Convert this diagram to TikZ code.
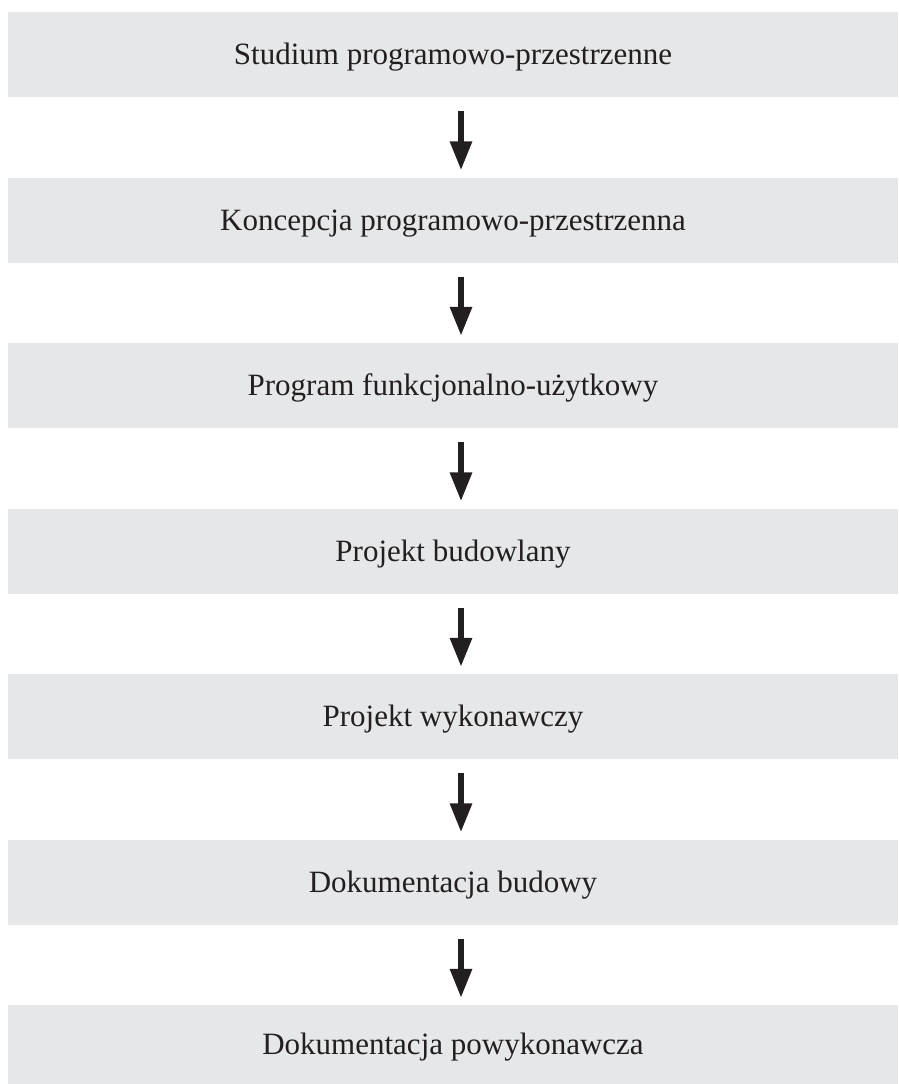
\documentclass[tikz,border=0pt]{standalone}
\usepackage{fontspec}
\setmainfont{Liberation Serif}
\usepackage{tikz}
\usetikzlibrary{arrows.meta}

\definecolor{boxgray}{HTML}{E6E7E8}
\definecolor{inkdark}{HTML}{231F20}

\tikzset{
  stage/.style={fill=boxgray, text=inkdark, minimum width=890pt, minimum height=85pt,
    inner sep=0pt, text height=27pt, text depth=6.5pt, font=\fontsize{31}{37}\selectfont},
  flow/.style={draw=inkdark, line width=6pt, -{Triangle[width=21pt,length=29pt]},
    shorten <=14pt, shorten >=7pt}
}

\begin{document}
\begin{tikzpicture}[x=1pt, y=-1pt]
\useasboundingbox (0,0) rectangle (898,1084);
\node [stage] (s1) at (453, 54.5) {Studium programowo-przestrzenne};
\node [stage] (s2) at (453, 220) {Koncepcja programowo-przestrzenna};
\node [stage] (s3) at (453, 385.5) {Program funkcjonalno-użytkowy};
\node [stage] (s4) at (453, 551) {Projekt budowlany};
\node [stage] (s5) at (453, 716.5) {Projekt wykonawczy};
\node [stage] (s6) at (453, 882) {Dokumentacja budowy};
\node [stage, minimum height=79pt] (s7) at (453, 1044.5) {Dokumentacja powykonawcza};
\draw [flow] (s1.south -| 461,0) -- (s2.north -| 461,0);
\draw [flow] (s2.south -| 461,0) -- (s3.north -| 461,0);
\draw [flow] (s3.south -| 461,0) -- (s4.north -| 461,0);
\draw [flow] (s4.south -| 461,0) -- (s5.north -| 461,0);
\draw [flow] (s5.south -| 461,0) -- (s6.north -| 461,0);
\draw [flow] (s6.south -| 461,0) -- (s7.north -| 461,0);
\end{tikzpicture}
\end{document}
